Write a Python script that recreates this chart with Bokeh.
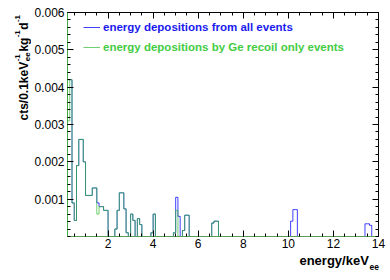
import numpy as np
from bokeh.plotting import figure
from bokeh.layouts import row, column
from bokeh.models import LinearAxis, FixedTicker, Label, Legend, LegendItem
from bokeh.embed import file_html
from bokeh.resources import INLINE

# ---------------- data ----------------
bin_width = 0.1
e_min, e_max = 0.2, 14.0
bin_low = [0.2, 0.3, 0.4, 0.5, 0.6, 0.7, 0.8, 0.9, 1.0, 1.1, 1.2, 1.3, 1.4, 1.5, 1.6, 1.7, 1.8, 1.9,
           2.3, 2.4, 2.5, 2.6, 2.7, 2.8, 3.0, 3.1, 3.3, 3.4, 3.9, 4.0,
           4.9, 5.0, 5.1, 5.3, 5.4, 5.5, 6.6, 6.7, 6.8,
           10.1, 10.2, 10.3, 13.4, 13.5, 13.6]
all_vals = [0.0042, 0.0042, 0.0009, 0.00043, 0.0019, 0.0026, 0.0026, 0.0020, 0.0011, 0.0011, 0.0011,
            0.0013, 0.0013, 0.0009, 0.0008, 0.0008, 0.0007, 0.0007,
            0.0002, 0.0007, 0.00117, 0.00117, 0.00074, 0.0001, 0.0006, 0.00043, 0.00048, 0.00032,
            0.0001, 0.0006,
            0.0001, 0.00105, 0.00054, 0.00016, 0.00057, 0.00057, 0.00036, 0.00041, 0.00041,
            0.00041, 0.00072, 0.00072, 0.00034, 0.00034, 0.0003]
ge_vals = [0.0031, 0.0042, 0.0009, 0.00043, 0.0019, 0.0026, 0.0026, 0.0020, 0.0011, 0.0011, 0.0011,
           0.0013, 0.0013, 0.0006, 0.0008, 0.0008, 0.0007, 0.0007,
           0.0002, 0.0007, 0.00117, 0.00117, 0.00074, 0.0001, 0.0006, 0.00043, 0.00048, 0.00032,
           0.0001, 0.0006,
           0.0001, 0.0007, 0.0, 0.00016, 0.00057, 0.00057, 0.00036, 0.00041, 0.00041,
           0.0, 0.0, 0.0, 0.0, 0.0, 0.0]
series_labels = ["energy depositions from all events",
                 "energy depositions by Ge recoil only events"]
x_ticks = [2, 4, 6, 8, 10, 12, 14]
y_ticks = [0.001, 0.002, 0.003, 0.004, 0.005, 0.006]
y_tick_labels = ["0.001", "0.002", "0.003", "0.004", "0.005", "0.006"]

# ---------------- build histograms ----------------
edges = np.round(np.arange(e_min, e_max + bin_width / 2, bin_width), 1)
nbins = len(edges) - 1
idx = np.rint((np.array(bin_low) - e_min) / bin_width).astype(int)
h_all = np.zeros(nbins)
h_ge = np.zeros(nbins)
h_all[idx] = all_vals
h_ge[idx] = ge_vals
y_all = np.append(h_all, h_all[-1])
y_ge = np.append(h_ge, h_ge[-1])

FONT = "Liberation Sans"
YT_W = 31      # width of the strip holding the y-axis title
MAIN_H = 254   # height of the main chart canvas
XT_H = 26      # height of the strip holding the x-axis title

# ---------------- main chart ----------------
p = figure(width=390 - YT_W, height=MAIN_H, x_range=(e_min, e_max), y_range=(0, 0.006),
           output_backend="svg", toolbar_location=None,
           min_border_left=67 - YT_W, min_border_right=12, min_border_top=12, min_border_bottom=18)
p.outline_line_color = None
p.grid.visible = False
p.background_fill_color = "white"

r_all = p.step(edges, y_all, mode="after", line_color="#0000ff", line_alpha=0.75, line_width=1)
r_ge = p.step(edges, y_ge, mode="after", line_color="#33bb33", line_alpha=0.7, line_width=1)

x_minor = list(np.arange(0.5, 14.01, 0.5))
y_minor = list(np.arange(0.0, 0.00601, 0.0002))

def style_axis(ax, labels=True):
    ax.major_tick_in = 6
    ax.major_tick_out = 0
    ax.minor_tick_in = 3
    ax.minor_tick_out = 0
    ax.major_tick_line_color = "black"
    ax.minor_tick_line_color = "black"
    ax.axis_line_color = "black"
    ax.major_label_text_font = FONT
    if labels:
        ax.major_label_text_font_size = "12px"
        ax.major_label_text_color = "black"
    else:
        ax.major_label_text_font_size = "1px"
        ax.major_label_text_color = None
        ax.major_label_standoff = 0

xa = p.xaxis[0]
xa.ticker = FixedTicker(ticks=x_ticks, minor_ticks=x_minor)
style_axis(xa)
xa.major_label_standoff = 2
xa.axis_line_color = "#5a9a5a"

ya = p.yaxis[0]
ya.ticker = FixedTicker(ticks=y_ticks, minor_ticks=y_minor)
ya.major_label_overrides = {t: s for t, s in zip(y_ticks, y_tick_labels)}
style_axis(ya)
ya.major_label_standoff = 3
ya.axis_line_color = "#44aa44"

top = LinearAxis(ticker=FixedTicker(ticks=x_ticks, minor_ticks=x_minor))
style_axis(top, labels=False)
p.add_layout(top, "above")
right = LinearAxis(ticker=FixedTicker(ticks=y_ticks, minor_ticks=y_minor))
style_axis(right, labels=False)
p.add_layout(right, "right")

def make_legend(label, rend, color, loc):
    lg = Legend(items=[LegendItem(label=label, renderers=[rend])], location=loc,
                glyph_width=17, glyph_height=12, label_height=12, label_standoff=3,
                padding=0, margin=0, spacing=0, border_line_color=None,
                background_fill_alpha=0.0,
                label_text_font=FONT, label_text_font_style="bold",
                label_text_font_size="11.5px", label_text_color=color)
    p.add_layout(lg, "center")

make_legend(series_labels[0], r_all, "#1a1aee", (16, 202.7))
make_legend(series_labels[1], r_ge, "#44cc44", (16, 183.3))

# ---------------- title strips ----------------
def strip(w, h):
    f = figure(width=w, height=h, output_backend="svg", toolbar_location=None,
               x_axis_location=None, y_axis_location=None,
               min_border_left=0, min_border_right=0, min_border_top=0, min_border_bottom=0)
    f.outline_line_color = None
    f.grid.visible = False
    return f

def lab(f, text, x, y, size, angle=0.0, align="left"):
    f.add_layout(Label(x=x, y=y, x_units="screen", y_units="screen", text=text,
                       angle=angle, text_align=align, text_baseline="alphabetic",
                       text_font=FONT, text_font_style="bold", text_font_size=size,
                       text_color="black"))

# the strip's frame is aligned with the main frame (y measured up from the x axis)
yt = strip(YT_W, MAIN_H)
ang = np.pi / 2
lab(yt, "cts/0.1keV", 23.5, 116, "12px", angle=ang)
lab(yt, "-1", 16.5, 175.2, "8px", angle=ang)
lab(yt, "ee", 26.5, 175.2, "8px", angle=ang)
lab(yt, "kg", 23.5, 184.9, "12px", angle=ang)
lab(yt, "-1", 16.5, 199.2, "8px", angle=ang)
lab(yt, "d", 23.5, 206.8, "12px", angle=ang)
lab(yt, "-1", 16.5, 214.4, "8px", angle=ang)

xt = strip(390, XT_H)
lab(xt, "energy/keV", 368.3, 20, "13px", align="right")
lab(xt, "ee", 369, 14, "8.5px")

layout = column(row(yt, p, spacing=0), xt, spacing=0)
open("out.html", "w").write(file_html(layout, INLINE))
